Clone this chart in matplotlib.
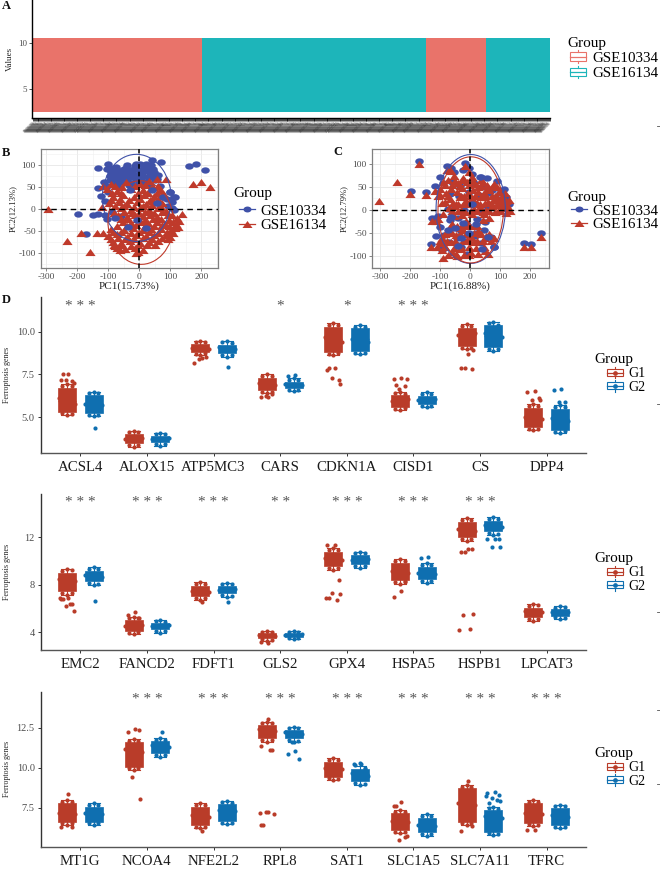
import matplotlib
matplotlib.use("Agg")
import matplotlib.pyplot as plt
from matplotlib.path import Path
from matplotlib.patches import Ellipse, Patch, Rectangle
from matplotlib.legend_handler import HandlerBase
from matplotlib.lines import Line2D
from matplotlib.transforms import Affine2D

plt.rcParams['font.family'] = ['Liberation Serif', 'DejaVu Serif']
plt.rcParams['axes.unicode_minus'] = False

W, H = 660, 872
RED_A, TEAL_A = '#E9736A', '#1DB5BA'
RED_P, BLUE_P = '#BF3A2B', '#3F51A8'
RED_D, BLUE_D = '#B93C29', '#0F6FB0'
GRAY = '#4D4D4D'

# ---------- A ----------
group_names = ['GSE10334', 'GSE16134']
segment_groups = ['GSE10334', 'GSE16134', 'GSE10334', 'GSE16134']
segment_counts = [183, 241, 64, 69]
values_low, values_high = 2.53, 10.54
sample_labels = ['GSM26%04d' % i for i in range(1000, 1000 + sum(segment_counts))]

# ---------- B ----------
B_blue_x = [-134, -100, 160, 182, 212, 71, 40, -199, -148, -132, -172, -103, -92, -85, -72, -66, -58, -50, -44, -36, -30,
            -24, -15, -6, 3, 12, 25, 38, 48, 58, -115, -105, -96, -84, -75, -60, -45, -28, -12, 5, 20, 36, 52,
            -132, -122, -112, 77, 99, 115, 92, 106, 56, -105, -112, -88, -60, 112,
            -80, -62, -48, -32, -18, -2, 14, 30, 44, -95, -70, -54, -38, -20, -4, 10, 28, 42, 60,
            -90, -76, -40, -10, 22, -102, -68, -34, 0, 34, 68, 90, 104]
B_blue_y = [93, 103, 98, 103, 90, 108, 112, -10, -12, -10, -56, 92, 85, 78, 90, 72, 88, 80, 95, 76, 90,
            83, 98, 78, 103, 88, 92, 100, 84, 70, 62, 52, 66, 70, 58, 62, 70, 60, 68, 72, 62, 74, 66,
            48, 30, 18, 29, 40, 29, 8, 4, 15, -23, -12, -5, -15, -2,
            84, 80, 92, 84, 92, 90, 96, 84, 92, 76, 70, 76, 66, 74, 66, 78, 74, 78, 78,
            94, 96, 100, 104, 104, 40, 50, 56, 58, 56, 54, 24, 16]
B_blue_top_x = [-30, 40, 56, 77, -78, -35, -8, 22, 99, 112]
B_blue_top_y = [44, 44, 15, 29, -20, -40, -25, -42, 40, 28]
B_red_x = [-293, -234, -188, -159, -135, -116, 174, 198, 228, 85, 56, -121, -116,
           -92, -42, 3, 32, -104, -72, -28, 12, 38, 68, -84, -52, -18, 16, 48, -97, -66, -38, -8, 22, 44, 73,
           -60, -28, 2, 31, 62, 86, -68, -41, -13, 11, 36, 58, 94, 122, 137, -52, -26, 6, 28, 57, 82, 109, 120,
           -90, -48, -21, 12, 38, 69, 101, 116, -101, -71, -39, -9, 21, 49, 86, 99, -84, -58, -31, 1, 32, 61,
           -72, -46, -14, 11, -12, -4, -78, -62,
           -78, -55, -15, 18, 45, 62, -88, -58, -5, 28, 58, 78, -90, -62, -32, 2, 33, 62,
           -78, -48, -18, 12, 42, 70, -82, -50, -25, -2, 20, 48, 72, 105, -60, -35, -8, 18, 45, 70, 95, 128,
           -72, -40, -10, 20, 47, 72, 96, 125, -85, -58, -28, 0, 30, 60, 88, 110, -92, -70, -45, -18, 12, 40, 72, 92,
           -80, -55, -28, -3, 25, 50]
B_red_y = [0, -71, -53, -98, -53, -53, 57, 63, 50, 68, 68, 5, 53,
           58, 62, 57, 64, 46, 42, 47, 43, 48, 44, 28, 33, 27, 32, 30, 14, 17, 12, 16, 13, 18, 14,
           2, -2, 3, -1, 2, -3, -14, -17, -12, -16, -13, -17, -14, -20, -10, -29, -32, -28, -31, -29, -33, -28, -34,
           -44, -46, -43, -47, -45, -44, -46, -42, -60, -57, -62, -58, -61, -59, -58, -62, -74, -77, -72, -76, -74, -71,
           -88, -91, -87, -92, -100, -96, -83, -92,
           52, 50, 53, 55, 51, 54, 37, 38, 36, 38, 36, 37, 22, 23, 21, 24, 22, 23,
           7, 8, 6, 7, 9, 6, -8, -7, -9, -8, -6, -9, -7, -12, -22, -23, -21, -24, -22, -23, -24, -26,
           -37, -38, -36, -38, -37, -36, -38, -40, -52, -51, -53, -52, -51, -53, -52, -54, -67, -66, -68, -67, -66, -68, -66, -67,
           -82, -81, -83, -82, -81, -80]

# ---------- C ----------
C_blue_x = [-170, -198, -147, 236, 178, 203, -128, -108, -78, -65, -17, -5, -100, -55, -25, 5, 35, 55, 90, 112, 128,
            -118, -90, -60, -32, 12, 40, 72, 100, 120, -68, -38, -5, 30, 62, 85, -75, -50, -20, 8, 42, 60,
            -68, -40, -12, 22, 48, -115, -88, -60, -30, -8, 20, 45, 68, 80, -95, -70, -45, -15, 15, 38,
            -130, -95, -30, -10, -40]
C_blue_y = [106, 42, 40, -51, -72, -74, -18, -13, 96, 92, 102, 92, 72, 82, 88, 78, 72, 70, 64, 46, 12,
            52, 58, 60, 52, 58, 50, 44, 38, 28, 34, 30, 40, 32, 36, 24, 2, 8, 0, 10, -2, 6,
            -22, -18, -28, -20, -26, -56, -54, -40, -46, -36, -50, -44, -60, -82, -76, -70, -62, -68, -58, -72,
            -74, -88, -82, -96, -76]
C_blue_top_x = [-50, -30, -5, 20, -75, 60, -40, 40, -25, -65, 5, -100, 34, 80]
C_blue_top_y = [-40, -62, -50, -30, -45, -60, -78, -85, -28, -15, 12, -38, 72, -82]
C_red_x = [-302, -244, -200, -147, -170, 236, 178, 203, -128, -108, -78, -62, -17, -3, -118, -100, -90, -72, -55, -40, -25, -10,
           8, 25, 42, 60, 78, 95, 115, 130, -100, -80, -62, -44, -26, -8, 10, 28, 46, 64, 82, 100, 120, 133,
           -85, -68, -48, -30, -12, 6, 24, 42, 60, 78, 96, 110, 125, -70, -50, -30, -10, 12, 32, 52, 72, 92, 108,
           -90, -52, -28, 8, 45, -112, -60, -34, -12, 18, 42, 62, -95, -72, -48, -22, 2, 28, 52, 78, -130, -98, -62, -38, -10, 14, 50,
           -95, -60, -30, 4, 48, -90, -45,
           -50, -22, 10, 38, -85, -60, -33, -5, 18, 35, 55, 75, 90,
           -108, -72, -35, -20, 0, 18, 36, 54, 72, 90, 108, -92, -58, -40, -20, -3, 15, 33, 50, 70, 88, 104, 120,
           -60, -40, -18, 3, 22, 42, 62, 82, 100, 118, -65, -45, -22, -2, 24,
           -85, -60, -35, -12, 14, 38, 64, -100, -78, -50, -25, 0, 22, 44, 70, -110, -85, -55, -30, -5, 20, 45,
           -75, -48, -20, -2, 25, 60]
C_red_y = [20, 60, 35, 33, 100, -60, -80, -82, -25, -20, 88, 85, 95, 82, 42, 45, 62, 66, 74, 58, 70, 62,
           72, 50, 62, 48, 56, 40, 36, 22, 32, 36, 46, 40, 48, 38, 44, 40, 36, 44, 30, 24, 20, -2,
           18, 24, 12, 30, 20, 26, 16, 28, 18, 22, 10, 14, 6, 4, 8, 0, 12, 2, 6, 0, 8, -2, 4,
           -8, -14, -12, -10, -8, -24, -30, -40, -24, -32, -22, -18, -62, -48, -54, -44, -60, -46, -56, -62, -80, -72, -70, -58, -66, -70, -62,
           -88, -92, -86, -94, -90, -106, -100,
           64, 65, 63, 66, 54, 55, 53, 55, 56, 53, 54, 52, 50,
           30, 31, 29, 30, 31, 30, 29, 31, 30, 29, 28, 14, 15, 13, 14, 15, 14, 13, 15, 14, 13, 14, 12,
           -3, -2, -4, -3, -2, -4, -3, -4, -3, -6, -35, -36, -34, -36, -35,
           -52, -51, -53, -52, -51, -53, -52, -68, -67, -69, -68, -67, -69, -68, -67, -82, -81, -83, -82, -81, -83, -82,
           -98, -97, -99, -98, -97, -96]

# ---------- D ----------
genes_1 = ['ACSL4', 'ALOX15', 'ATP5MC3', 'CARS', 'CDKN1A', 'CISD1', 'CS', 'DPP4']
genes_2 = ['EMC2', 'FANCD2', 'FDFT1', 'GLS2', 'GPX4', 'HSPA5', 'HSPB1', 'LPCAT3']
genes_3 = ['MT1G', 'NCOA4', 'NFE2L2', 'RPL8', 'SAT1', 'SLC1A5', 'SLC7A11', 'TFRC']
stars_1 = ['***', '', '', '*', '*', '***', '', '']
stars_2 = ['***', '***', '***', '**', '***', '***', '***', '']
stars_3 = ['', '***', '***', '***', '***', '***', '***', '***']

# whislo, q1, median, q3, whishi
box_1_g1 = [(5.13, 5.33, 5.95, 6.72, 6.92), (3.27, 3.47, 3.75, 4.01, 4.21), (8.64, 8.84, 9.02, 9.27, 9.47),
            (6.39, 6.59, 6.95, 7.32, 7.52), (8.64, 8.84, 9.6, 10.29, 10.49), (5.42, 5.62, 6.0, 6.29, 6.49),
            (8.97, 9.17, 9.8, 10.23, 10.43), (4.25, 4.45, 4.9, 5.55, 5.75)]
box_1_g2 = [(5.07, 5.27, 5.75, 6.29, 6.49), (3.33, 3.53, 3.75, 3.89, 4.09), (8.54, 8.74, 9.05, 9.25, 9.45),
            (6.53, 6.73, 6.92, 7.07, 7.27), (8.67, 8.87, 9.55, 10.19, 10.39), (5.58, 5.78, 6.02, 6.25, 6.45),
            (8.89, 9.09, 9.75, 10.38, 10.58), (4.05, 4.25, 4.9, 5.51, 5.71)]
pts_1_g1 = [[6.92, 6.84, 6.82, 5.13, 5.22, 5.21, 6.1, 5.8, 7.52, 7.17, 7.1, 7.15, 7.0, 7.55],
            [4.21, 4.12, 4.13, 3.27, 3.36, 3.35, 3.75, 3.8],
            [9.47, 9.38, 9.37, 8.64, 8.72, 8.73, 9.05, 9.0, 8.44, 8.19, 8.5, 8.42],
            [7.52, 7.42, 7.44, 6.39, 6.47, 6.46, 7.0, 6.9, 6.2, 6.18, 6.35, 6.22],
            [10.49, 10.4, 10.38, 8.64, 8.72, 8.73, 9.7, 9.4, 7.9, 7.76, 7.2, 7.27, 6.96, 7.85],
            [6.49, 6.4, 6.38, 5.42, 5.5, 5.52, 5.95, 6.05, 7.31, 7.23, 6.82, 6.63, 7.25, 6.9],
            [10.43, 10.34, 10.33, 8.97, 9.05, 9.06, 9.8, 9.9, 8.67, 7.9, 7.8, 7.85, 8.95],
            [5.75, 5.66, 5.65, 4.25, 4.33, 4.34, 5.0, 4.9, 6.53, 6.5, 6.1, 6.0, 6.03]]
pts_1_g2 = [[6.49, 6.42, 6.4, 5.07, 5.16, 5.15, 5.8, 5.7, 4.39],
            [4.09, 4.0, 4.01, 3.33, 3.42, 3.41, 3.75, 3.8],
            [9.45, 9.37, 9.36, 8.54, 8.63, 8.62, 9.1, 9.0, 7.93],
            [7.27, 7.18, 7.17, 6.53, 6.62, 6.61, 6.95, 6.9, 7.45, 7.43],
            [10.39, 10.3, 10.28, 8.67, 8.75, 8.76, 9.6, 9.4],
            [6.45, 6.36, 6.37, 5.58, 5.66, 5.65, 6.0, 6.05],
            [10.58, 10.5, 10.38, 8.89, 8.98, 8.97, 9.9, 9.7],
            [5.71, 5.62, 5.6, 4.05, 4.15, 4.17, 4.95, 4.8, 6.67, 6.62, 5.9, 5.88]]

box_2_g1 = [(7.14, 7.5, 8.4, 9.0, 9.33), (3.85, 4.15, 4.6, 5.0, 5.31), (6.72, 7.02, 7.45, 7.9, 8.2),
            (3.29, 3.5, 3.75, 3.95, 4.13), (9.25, 9.55, 10.2, 10.77, 11.07), (8.07, 8.37, 9.1, 9.85, 10.15),
            (11.69, 11.99, 12.6, 13.3, 13.6), (4.98, 5.28, 5.8, 6.08, 6.38)]
box_2_g2 = [(7.98, 8.28, 8.75, 9.17, 9.47), (3.97, 4.25, 4.55, 4.75, 5.03), (7.0, 7.3, 7.6, 7.9, 8.18),
            (3.43, 3.6, 3.8, 3.95, 4.13), (9.44, 9.74, 10.1, 10.49, 10.79), (8.18, 8.48, 8.95, 9.5, 9.81),
            (12.2, 12.5, 12.9, 13.4, 13.69), (5.12, 5.4, 5.75, 5.95, 6.21)]
pts_2_g1 = [[9.33, 9.2, 9.22, 7.14, 7.28, 7.3, 8.5, 8.3, 6.86, 6.78, 6.38, 6.21, 5.79, 6.82, 6.4, 6.85],
            [5.31, 5.2, 5.18, 3.85, 3.98, 4.0, 4.55, 4.65, 5.68, 5.45, 5.2],
            [8.2, 8.08, 8.05, 6.72, 6.85, 6.86, 7.5, 7.4, 6.55],
            [4.13, 4.05, 4.03, 3.29, 3.4, 3.38, 3.75, 3.7, 3.12, 3.15],
            [11.07, 10.95, 10.97, 9.25, 9.38, 9.4, 10.3, 10.1, 11.35, 11.37, 8.4, 7.28, 7.25, 6.86, 6.72, 6.9],
            [10.15, 10.02, 10.0, 8.07, 8.2, 8.22, 9.2, 9.0, 7.48, 7.0, 8.3],
            [13.6, 13.48, 13.46, 11.69, 11.82, 11.84, 12.7, 12.5, 11.02, 10.74, 11.0, 10.76, 5.51, 5.45, 4.28, 4.19],
            [6.38, 6.25, 6.28, 4.98, 5.12, 5.1, 5.8, 5.7]]
pts_2_g2 = [[9.47, 9.34, 9.35, 7.98, 8.12, 8.1, 8.8, 8.7, 6.66],
            [5.03, 4.92, 4.9, 3.97, 4.1, 4.08, 4.55, 4.6],
            [8.18, 8.05, 8.07, 7.0, 7.12, 7.1, 7.6, 7.65, 6.52],
            [4.13, 4.03, 4.02, 3.43, 3.52, 3.5, 3.8, 3.85],
            [10.79, 10.66, 10.64, 9.44, 9.57, 9.55, 10.1, 10.15],
            [9.81, 9.68, 9.66, 8.18, 8.3, 8.32, 9.0, 8.9, 10.31, 10.28],
            [13.69, 13.55, 13.54, 12.2, 12.33, 12.31, 13.0, 12.9, 11.86, 11.84, 11.86, 11.21, 11.2],
            [6.21, 6.08, 6.1, 5.12, 5.25, 5.23, 5.75, 5.7]]

box_3_g1 = [(6.44, 6.64, 7.2, 7.8, 8.0), (9.87, 10.07, 11.1, 11.59, 11.79), (6.23, 6.43, 7.0, 7.59, 7.79),
            (11.63, 11.83, 12.35, 12.67, 12.87), (9.24, 9.44, 9.95, 10.39, 10.59), (5.92, 6.12, 6.65, 7.18, 7.38),
            (6.44, 6.64, 7.75, 8.73, 8.93), (6.38, 6.58, 7.15, 7.8, 8.0)]
box_3_g2 = [(6.44, 6.64, 7.15, 7.59, 7.79), (10.7, 10.9, 11.35, 11.64, 11.84), (6.48, 6.68, 7.35, 7.76, 7.96),
            (11.63, 11.83, 12.15, 12.36, 12.56), (8.93, 9.2, 9.6, 9.9, 10.1), (5.78, 5.98, 6.4, 6.9, 7.1),
            (5.82, 6.02, 7.0, 7.38, 7.58), (6.23, 6.43, 7.0, 7.51, 7.71)]
pts_3_g1 = [[8.0, 7.9, 7.88, 6.44, 6.55, 6.54, 7.2, 7.1, 8.35, 6.3, 6.32],
            [11.79, 11.7, 11.68, 9.87, 9.96, 9.98, 11.2, 11.0, 12.4, 12.23, 12.38, 9.41, 8.06],
            [7.79, 7.68, 7.7, 6.23, 6.34, 6.33, 7.05, 6.95, 6.05],
            [12.87, 12.77, 12.78, 11.63, 11.72, 11.74, 12.4, 12.3, 13.04, 11.36, 11.11, 7.27, 7.13, 6.44, 11.14, 7.2, 7.25, 6.42],
            [10.59, 10.5, 10.48, 9.24, 9.34, 9.33, 10.0, 9.9],
            [7.38, 7.28, 7.27, 5.92, 6.02, 6.0, 6.7, 6.6, 7.89, 7.62, 5.72, 5.5, 5.75, 7.6],
            [8.93, 8.83, 8.82, 6.44, 6.55, 6.54, 7.8, 7.7, 9.16, 6.07, 6.35],
            [8.0, 7.9, 7.88, 6.38, 6.48, 6.47, 7.2, 7.1, 6.13, 6.14]]
pts_3_g2 = [[7.79, 7.7, 7.68, 6.44, 6.55, 6.54, 7.2, 7.1],
            [11.84, 11.74, 11.72, 10.7, 10.8, 10.79, 11.4, 11.3, 12.25],
            [7.96, 7.86, 7.84, 6.48, 6.58, 6.57, 7.4, 7.3],
            [12.56, 12.47, 12.45, 11.63, 11.72, 11.7, 12.2, 12.1, 11.07, 10.84, 10.53, 11.6],
            [10.28, 10.2, 10.0, 8.93, 9.03, 9.02, 9.7, 9.5, 10.25, 10.22, 9.95],
            [7.1, 7.0, 6.98, 5.78, 5.88, 5.87, 6.45, 6.35],
            [7.58, 7.48, 7.46, 5.82, 5.92, 5.91, 7.0, 6.9, 8.52, 8.45, 8.3, 8.1, 7.95, 7.8, 8.0, 8.25],
            [7.71, 7.61, 7.6, 6.23, 6.33, 6.32, 7.05, 6.95]]

JITTER = [0, -0.07, 0.07, 0, -0.07, 0.07, -0.125, 0.125]
JITTER_OUT = [0.02, -0.09, 0.08, -0.02, 0.1, -0.06, 0.05, -0.11]

fig = plt.figure(figsize=(W / 100, H / 100), dpi=100)


def px_axes(left, right, top, bottom):
    return fig.add_axes([left / W, 1 - bottom / H, (right - left) / W, (bottom - top) / H])


class BoxKey(HandlerBase):
    def __init__(self, key_pts, half, dot):
        super().__init__()
        self.key_pts, self.half, self.dot = key_pts, half, dot

    def create_artists(self, legend, orig, xd, yd, width, height, fontsize, trans):
        c = orig.get_edgecolor()
        x0, x1 = width - self.key_pts, width
        xm = (x0 + x1) / 2
        ym = height / 2
        h = self.half
        out = [Rectangle((x0, ym - h), x1 - x0, 2 * h, fc='white', ec=c, lw=0.8, transform=trans),
               Line2D([x0, x1], [ym, ym], color=c, lw=0.9, transform=trans),
               Line2D([xm, xm], [ym - h - 1.6, ym - h], color=c, lw=0.8, transform=trans),
               Line2D([xm, xm], [ym + h, ym + h + 1.6], color=c, lw=0.8, transform=trans)]
        if self.dot:
            out.append(Line2D([xm], [ym], marker='o', ms=2.4, color=c, transform=trans))
        return out


class PointKey(HandlerBase):
    def __init__(self, key_pts):
        super().__init__()
        self.key_pts = key_pts

    def create_artists(self, legend, orig, xd, yd, width, height, fontsize, trans):
        c = orig.get_color()
        x0, x1 = width - self.key_pts, width
        ym = height / 2
        return [Line2D([x0, x1], [ym, ym], color=c, lw=0.9, transform=trans),
                Line2D([(x0 + x1) / 2], [ym], marker=orig.get_marker(), ms=orig.get_markersize(),
                       color=c, mew=0, transform=trans)]


def place_legend(ax, handles, labels, x, y, handler, handle_px, textpad_px, fs, spacing, sep=1):
    lg = ax.legend(handles, labels, title='Group', alignment='left', loc='upper left',
                   bbox_to_anchor=(x / W, 1 - y / H), bbox_transform=fig.transFigure,
                   frameon=False, fontsize=fs, title_fontsize=11,
                   borderpad=0, borderaxespad=0, labelspacing=spacing,
                   handlelength=handle_px * 0.72 / fs, handletextpad=textpad_px * 0.72 / fs,
                   handler_map={type(handles[0]): handler})
    lg._legend_box.sep = sep
    return lg


# Panel A
axA = px_axes(32.4, 550, 0, 118)
lefts = [sum(segment_counts[:i]) for i in range(len(segment_counts))]
seg_colors = [RED_A if g == group_names[0] else TEAL_A for g in segment_groups]
axA.bar(lefts, [values_high - values_low] * 4, width=segment_counts, bottom=values_low,
        align='edge', color=seg_colors, linewidth=0)
axA.set_xlim(0, sum(segment_counts))
axA.set_ylim(1.88, 14.7)
axA.set_yticks([5, 10])
axA.tick_params(axis='y', labelsize=6.5, labelcolor=GRAY, length=2, width=0.6, pad=2, color='#333333')
axA.set_xticks([i + 0.5 for i in range(len(sample_labels))])
axA.set_xticklabels(sample_labels, rotation=45, ha='right', rotation_mode='anchor',
                    fontsize=1.9, color='#333333')
axA.tick_params(axis='x', length=2, width=0.5, pad=0.6, color='black')
axA.set_ylabel('Values', fontsize=6.5, color='#222222', labelpad=3)
for s in ('top', 'right'):
    axA.spines[s].set_visible(False)
axA.spines['left'].set_linewidth(1.0)
axA.spines['bottom'].set_linewidth(1.0)
place_legend(axA, [Patch(edgecolor=RED_A, label=group_names[0]), Patch(edgecolor=TEAL_A, label=group_names[1])],
             group_names, 567, 37, BoxKey(11.5, 3.0, False), 19, 6, 10.8, 0.12)

ellipse_marker = Path.unit_circle().transformed(Affine2D().scale(1.0, 0.74))
triangle_marker = Path([(-1, -0.7), (1, -0.7), (0, 0.7), (-1, -0.7)], closed=True)


def pca_panel(ax, bx, by, tx, ty, rx, ry, xl, yl, xlab, ylab, ells):
    ax.set_axisbelow(True)
    ax.grid(True, which='major', color='#E6E6E6', lw=0.6)
    ax.set_xticks([-250, -150, -50, 50, 150, 250], minor=True)
    ax.set_yticks([-125, -75, -25, 25, 75, 125], minor=True)
    ax.grid(True, which='minor', color='#F0F0F0', lw=0.4)
    ax.tick_params(which='minor', length=0)
    ax.scatter(bx, by, s=38, marker=ellipse_marker, color=BLUE_P, linewidths=0, zorder=2)
    ax.scatter(rx, ry, s=54, marker=triangle_marker, color=RED_P, linewidths=0, zorder=3)
    ax.scatter(tx, ty, s=38, marker=ellipse_marker, color=BLUE_P, linewidths=0, zorder=3.5)
    for (cx, cy, w, h, ang, col) in ells:
        ax.add_patch(Ellipse((cx, cy), w, h, angle=ang, fill=False, edgecolor=col, lw=0.8, zorder=4))
    ax.axhline(0, color='black', ls=(0, (4, 3)), lw=1.0, zorder=5)
    ax.axvline(0, color='black', ls=(0, (3, 2)), lw=1.1, zorder=5)
    ax.set_xlim(*xl)
    ax.set_ylim(*yl)
    ax.set_xticks([-300, -200, -100, 0, 100, 200])
    ax.set_yticks([-100, -50, 0, 50, 100])
    ax.tick_params(labelsize=6.8, labelcolor=GRAY, length=2, width=0.5, pad=1.5, color='#555555')
    ax.set_xlabel(xlab, fontsize=8, color='#222222', labelpad=0.5)
    ax.set_ylabel(ylab, fontsize=6.2, color='#222222', labelpad=1)
    for s in ax.spines.values():
        s.set_color('#7F7F7F')
        s.set_linewidth(0.9)


axB = px_axes(40.7, 217.7, 149.5, 268.3)
pca_panel(axB, B_blue_x, B_blue_y, B_blue_top_x, B_blue_top_y, B_red_x, B_red_y, (-318, 253), (-134, 136),
          'PC1(15.73%)', 'PC2(12.13%)',
          [(-8, 26, 222, 198, -3, BLUE_P), (5, -30, 212, 190, -3, RED_P)])
axC = px_axes(371.7, 549, 149.5, 268.3)
pca_panel(axC, C_blue_x, C_blue_y, C_blue_top_x, C_blue_top_y, C_red_x, C_red_y, (-328, 263), (-127.6, 132),
          'PC1(16.88%)', 'PC2(12.79%)',
          [(2, 2, 231, 238, -3, BLUE_P), (2, 0, 218, 232, -3, RED_P)])
pca_handles = [Line2D([], [], color=BLUE_P, marker=ellipse_marker, ms=5.76),
               Line2D([], [], color=RED_P, marker=triangle_marker, ms=7.2)]
place_legend(axB, pca_handles, group_names, 233, 187, PointKey(11.5), 22, 5, 10.8, 0.05, sep=3)
place_legend(axC, pca_handles, group_names, 567, 191, PointKey(11.5), 20, 5, 10.8, 0.0, sep=0)


def gene_panel(ax, genes, stars, box1, box2, pts1, pts2, ylim, yticks, yfmt, star_y, leg_y):
    for offs, box, pts, col in ((-0.2, box1, pts1, RED_D), (0.2, box2, pts2, BLUE_D)):
        stats = [dict(whislo=b[0], q1=b[1], med=b[2], q3=b[3], whishi=b[4], fliers=[]) for b in box]
        ax.bxp(stats, positions=[i + offs for i in range(len(genes))], widths=0.27, patch_artist=True,
               showfliers=False, manage_ticks=False,
               boxprops=dict(facecolor=col, edgecolor=col, lw=0.5),
               medianprops=dict(color=col), whiskerprops=dict(color=col, lw=0.8),
               capprops=dict(color=col, lw=0.8), capwidths=0.18)
        xs, ys = [], []
        for i, vals in enumerate(pts):
            for k, v in enumerate(vals):
                j = JITTER[k] if k < len(JITTER) else JITTER_OUT[(k - len(JITTER)) % len(JITTER_OUT)]
                xs.append(i + offs + j)
                ys.append(v)
        ax.scatter(xs, ys, s=9, color=col, linewidths=0, zorder=3)
    for i, st in enumerate(stars):
        if st:
            ax.text(i, star_y, ' '.join(st), ha='center', va='center', fontsize=11, color='#555555')
    ax.set_xlim(-0.59, 7.59)
    ax.set_ylim(*ylim)
    ax.set_xticks(range(len(genes)))
    ax.set_xticklabels(genes, fontsize=10.7, color='#1a1a1a')
    ax.set_yticks(yticks)
    ax.set_yticklabels([yfmt % v for v in yticks], fontsize=7.5, color=GRAY)
    ax.tick_params(axis='x', length=2, width=0.7, pad=4, color='#333333')
    ax.tick_params(axis='y', length=2.5, width=0.7, pad=2, color='#333333')
    ax.set_ylabel('Ferroptosis genes', fontsize=5.8, color='#222222', labelpad=2)
    ax.yaxis.set_label_coords(-30 / 545, 0.5)
    for s in ('top', 'right'):
        ax.spines[s].set_visible(False)
    ax.spines['left'].set_color('#333333')
    ax.spines['bottom'].set_color('#555555')
    ax.spines['left'].set_linewidth(1.0)
    ax.spines['bottom'].set_linewidth(1.0)
    place_legend(ax, [Patch(edgecolor=RED_D, label='G1'), Patch(edgecolor=BLUE_D, label='G2')], ['G1', 'G2'],
                 594, leg_y, BoxKey(11.5, 2.6, True), 29, 5, 10, 0.02)


gene_panel(px_axes(41, 586, 297, 453), genes_1, stars_1, box_1_g1, box_1_g2, pts_1_g1, pts_1_g2,
           (2.91, 12.03), [5.0, 7.5, 10.0], '%.1f', 11.5, 353)
gene_panel(px_axes(41, 586, 494, 650), genes_2, stars_2, box_2_g1, box_2_g2, pts_2_g1, pts_2_g2,
           (2.51, 15.65), [4, 8, 12], '%d', 14.95, 552)
gene_panel(px_axes(41, 586, 691.7, 847), genes_3, stars_3, box_3_g1, box_3_g2, pts_3_g1, pts_3_g2,
           (5.07, 14.74), [7.5, 10.0, 12.5], '%.1f', 14.24, 747)

# panel letters
for t, x, y in (('A', 2, 6), ('B', 2, 153), ('C', 333, 152), ('D', 2, 300)):
    fig.text(x / W, 1 - y / H, t, fontsize=9, fontweight='bold', va='center', ha='left', color='#111111')

# stray small marks at the right margin of the reference
for y in (126, 404, 612, 710, 784):
    fig.add_artist(Line2D([657 / W, 660 / W], [1 - y / H, 1 - y / H], color='#555555', lw=0.6))

fig.savefig('out.png', dpi=100)
